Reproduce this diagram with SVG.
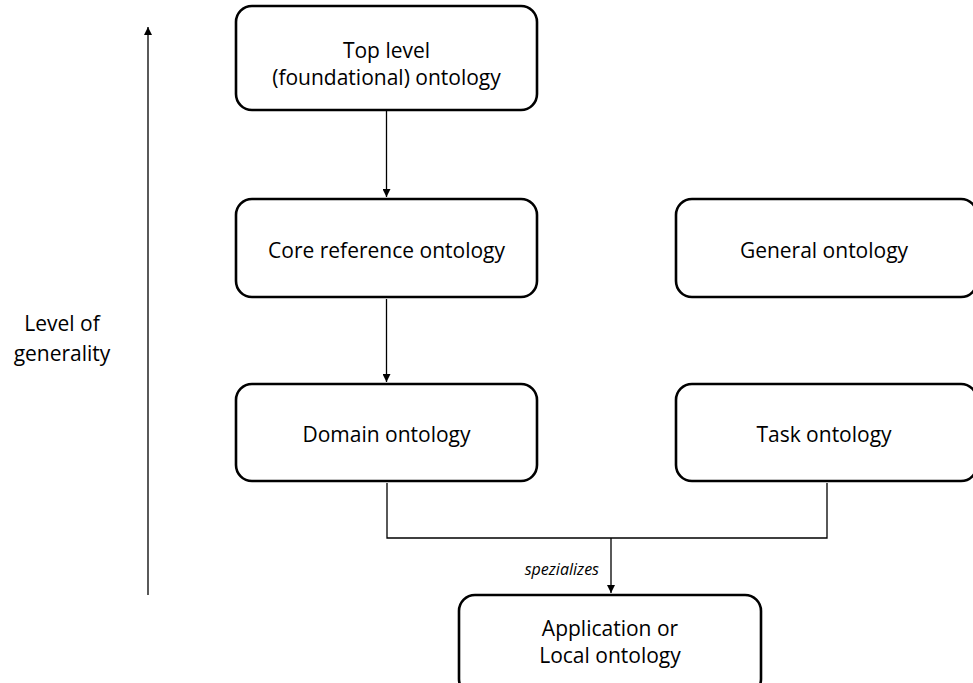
<svg xmlns="http://www.w3.org/2000/svg" width="973" height="683" viewBox="0 0 973 683">
  <style>
    .box { fill: #ffffff; stroke: #000000; stroke-width: 2.6; }
    .lbl { font-family: "Open Sans", "Liberation Sans", sans-serif; font-size: 21px; fill: #000000; text-anchor: middle; }
    .edge { fill: none; stroke: #000000; stroke-width: 1.3; }
    .note { font-family: "Open Sans", "Liberation Sans", sans-serif; font-size: 16px; font-style: italic; fill: #000000; text-anchor: end; }
  </style>
  <defs>
    <marker id="arrow" viewBox="0 0 8 8" refX="8" refY="4" markerWidth="8" markerHeight="8" markerUnits="userSpaceOnUse" orient="auto">
      <path d="M0,0 L8,4 L0,8 Z" fill="#000000"/>
    </marker>
  </defs>
  <rect width="973" height="683" fill="#ffffff"/>

  <!-- generality axis -->
  <g id="axis">
    <line class="edge" x1="148" y1="595" x2="148" y2="27" marker-end="url(#arrow)"/>
    <text class="lbl" x="62" y="331">Level of</text>
    <text class="lbl" x="62" y="361">generality</text>
  </g>

  <!-- connectors -->
  <g id="connectors">
    <line class="edge" x1="386.5" y1="111" x2="386.5" y2="197" marker-end="url(#arrow)"/>
    <line class="edge" x1="386.5" y1="299" x2="386.5" y2="382" marker-end="url(#arrow)"/>
    <polyline class="edge" points="387,483 387,538 827,538 827,483"/>
    <line class="edge" x1="611" y1="538" x2="611" y2="593" marker-end="url(#arrow)"/>
    <text class="note" x="599" y="575">spezializes</text>
  </g>

  <g id="top-level">
    <rect class="box" x="236" y="6" width="301" height="104" rx="16"/>
    <text class="lbl" x="386.5" y="58">Top level</text>
    <text class="lbl" x="386.5" y="85">(foundational) ontology</text>
  </g>

  <g id="core-reference">
    <rect class="box" x="236" y="199" width="301" height="98" rx="16"/>
    <text class="lbl" x="386.5" y="258">Core reference ontology</text>
  </g>

  <g id="general">
    <rect class="box" x="676" y="199" width="301" height="98" rx="16"/>
    <text class="lbl" x="824" y="258">General ontology</text>
  </g>

  <g id="domain">
    <rect class="box" x="236" y="384" width="301" height="97" rx="16"/>
    <text class="lbl" x="386.5" y="442">Domain ontology</text>
  </g>

  <g id="task">
    <rect class="box" x="676" y="384" width="301" height="97" rx="16"/>
    <text class="lbl" x="824" y="442">Task ontology</text>
  </g>

  <g id="application">
    <rect class="box" x="459" y="595" width="302" height="100" rx="16"/>
    <text class="lbl" x="610" y="636">Application or</text>
    <text class="lbl" x="610" y="663">Local ontology</text>
  </g>
</svg>
